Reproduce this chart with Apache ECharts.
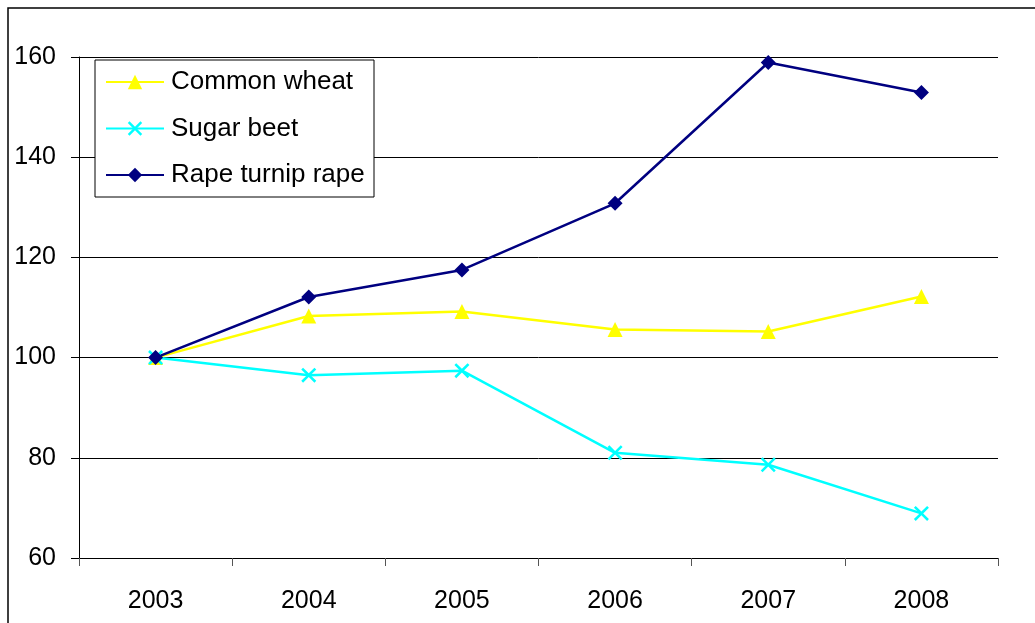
<!DOCTYPE html>
<html>
<head>
<meta charset="utf-8">
<script src="https://cdn.jsdelivr.net/npm/echarts@6/dist/echarts.min.js"></script>
<style>html,body{margin:0;padding:0;background:#fff;}#c{width:1035px;height:623px;}</style>
</head>
<body>
<div id="c"></div>
<script>
var years = ['2003','2004','2005','2006','2007','2008'];
var commonWheat = [100, 108.3, 109.2, 105.6, 105.2, 112.2];
var sugarBeet = [100, 96.5, 97.4, 81.0, 78.6, 68.9];
var rapeTurnipRape = [100, 112.1, 117.5, 130.8, 158.9, 152.9];
var seriesNames = ['Common wheat', 'Sugar beet', 'Rape turnip rape'];

var crossPath = 'path://M0,1.2L1.2,0L5,3.8L8.8,0L10,1.2L6.2,5L10,8.8L8.8,10L5,6.2L1.2,10L0,8.8L3.8,5Z';
var font = 'Arial, "Liberation Sans", sans-serif';

var chart = echarts.init(document.getElementById('c'));
chart.setOption({
  animation: false,
  backgroundColor: '#fff',
  graphic: [{
    type: 'rect', silent: true,
    shape: {x: 8, y: 8, width: 1200, height: 800},
    style: {fill: 'none', stroke: '#000', lineWidth: 1.5}
  }],
  grid: {left: 79, right: 37, top: 57, bottom: 65},
  legend: {
    orient: 'vertical', left: 95, top: 60,
    padding: [7, 8, 7, 10],
    itemGap: 16.5, itemWidth: 58, itemHeight: 18,
    borderColor: '#000', borderWidth: 1, backgroundColor: '#fff',
    textStyle: {fontFamily: font, fontSize: 26, color: '#000', lineHeight: 30, width: 195, padding: [0, 0, 0, 2]},
    data: seriesNames
  },
  xAxis: {
    type: 'category', data: years, boundaryGap: true,
    axisLine: {lineStyle: {color: '#000', width: 1}},
    axisTick: {show: true, length: 8, lineStyle: {color: '#555'}},
    axisLabel: {fontFamily: font, fontSize: 25, color: '#000', margin: 31}
  },
  yAxis: {
    type: 'value', min: 60, max: 160, interval: 20,
    axisLine: {show: true, lineStyle: {color: '#000', width: 1}},
    axisTick: {show: true, length: 8, lineStyle: {color: '#000'}},
    axisLabel: {fontFamily: font, fontSize: 25, color: '#000', margin: 23},
    splitLine: {lineStyle: {color: '#000', width: 1}}
  },
  series: [
    {name: seriesNames[0], type: 'line', data: commonWheat, color: '#FFFF00',
     symbol: 'triangle', symbolSize: 15, lineStyle: {width: 2.5, color: '#FFFF00'},
     itemStyle: {color: '#FFFF00'}},
    {name: seriesNames[1], type: 'line', data: sugarBeet, color: '#00FFFF',
     symbol: crossPath, symbolSize: 15, lineStyle: {width: 2.5, color: '#00FFFF'},
     itemStyle: {color: '#00FFFF'}},
    {name: seriesNames[2], type: 'line', data: rapeTurnipRape, color: '#000080',
     symbol: 'diamond', symbolSize: 15, lineStyle: {width: 2.5, color: '#000080'},
     itemStyle: {color: '#000080'}}
  ]
});
</script>
</body>
</html>
